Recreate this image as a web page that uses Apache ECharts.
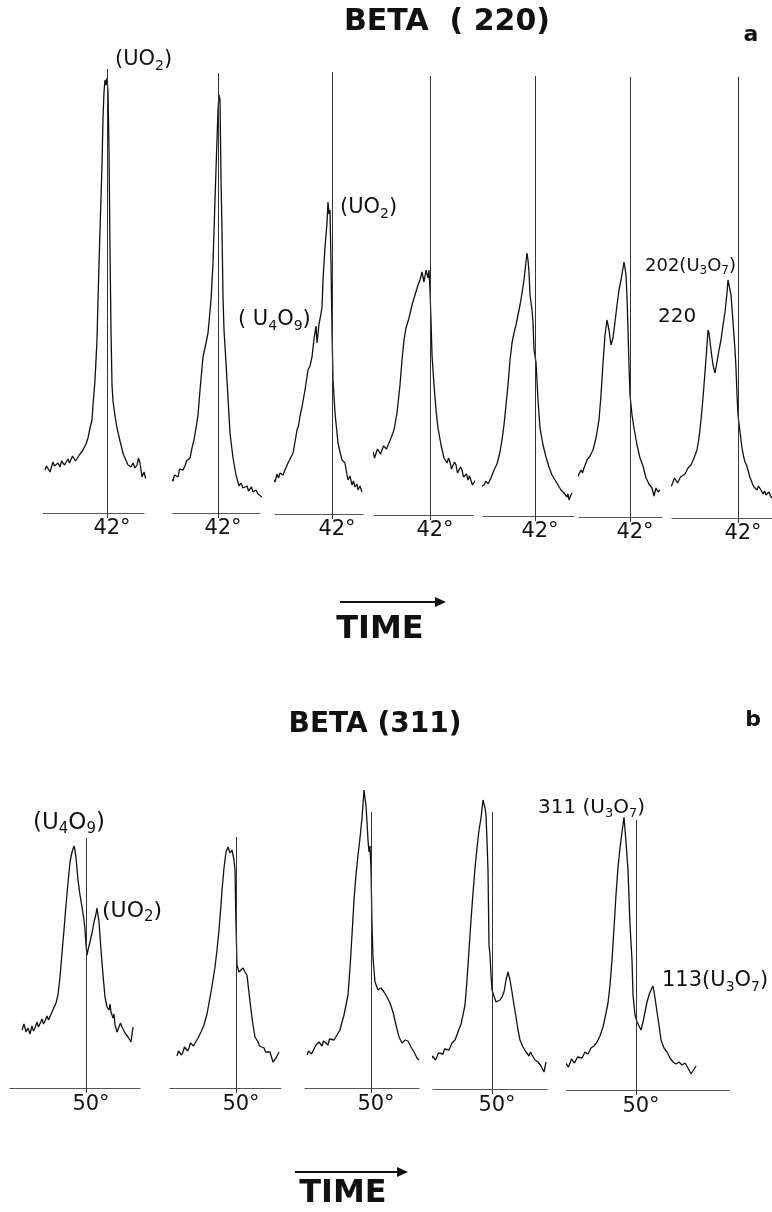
<!DOCTYPE html>
<html>
<head>
<meta charset="utf-8">
<script src="https://cdn.jsdelivr.net/npm/echarts@6/dist/echarts.min.js"></script>
<style>
html, body { margin: 0; background: #fff; }
#chart { width: 772px; height: 1212px; }
</style>
</head>
<body>
<div id="chart"></div>
<script>
// BETA (220): seven scans around 42 deg, [2theta, counts]
var a1 = [[40.76,43],[40.79,47],[40.82,48],[40.86,41],[40.89,46],[40.92,51],[40.95,47],[40.98,45],[41.02,50],[41.06,46],[41.09,52],[41.12,53],[41.15,48],[41.18,49],[41.22,54],[41.25,50],[41.28,51],[41.31,57],[41.34,56],[41.37,52],[41.40,54],[41.46,59],[41.52,63],[41.58,69],[41.62,75],[41.66,85],[41.70,93],[41.72,108],[41.76,133],[41.80,173],[41.82,213],[41.86,283],[41.90,348],[41.92,395],[41.94,421],[41.96,433],[41.98,428],[42.00,435],[42.02,421],[42.04,363],[42.06,263],[42.08,183],[42.10,128],[42.12,112],[42.16,97],[42.20,85],[42.26,72],[42.30,64],[42.33,58],[42.36,55],[42.42,48],[42.45,50],[42.48,46],[42.52,50],[42.56,45],[42.60,48],[42.63,55],[42.66,50],[42.70,36],[42.74,41],[42.77,35],[42.80,33],[42.83,37],[42.86,31]];
var a2 = [[40.80,26],[40.84,30],[40.87,35],[40.90,33],[40.94,27],[40.97,32],[41.00,30],[41.03,36],[41.06,34],[41.10,32],[41.13,38],[41.16,37],[41.20,36],[41.23,44],[41.26,45],[41.30,43],[41.34,47],[41.37,52],[41.40,50],[41.44,55],[41.48,65],[41.52,73],[41.56,85],[41.60,98],[41.64,123],[41.70,156],[41.76,170],[41.80,180],[41.86,213],[41.90,250],[41.94,313],[41.98,373],[42.00,403],[42.02,418],[42.04,413],[42.06,333],[42.08,283],[42.10,216],[42.12,183],[42.16,150],[42.20,115],[42.24,80],[42.30,55],[42.36,38],[42.42,27],[42.46,30],[42.50,25],[42.54,23],[42.58,27],[42.61,22],[42.64,23],[42.67,26],[42.70,21],[42.76,23],[42.80,19],[42.84,21],[42.88,16]];
var a3 = [[40.66,31],[40.70,38],[40.74,33],[40.78,40],[40.82,35],[40.86,32],[40.90,40],[40.93,36],[40.96,41],[41.02,39],[41.06,44],[41.09,42],[41.12,51],[41.16,55],[41.19,53],[41.22,61],[41.26,72],[41.30,84],[41.33,88],[41.36,98],[41.40,107],[41.46,124],[41.52,144],[41.56,148],[41.60,157],[41.64,175],[41.68,188],[41.70,171],[41.74,190],[41.78,200],[41.80,207],[41.82,234],[41.86,267],[41.90,291],[41.92,312],[41.94,300],[41.96,304],[41.98,251],[42.00,184],[42.02,134],[42.06,101],[42.12,71],[42.16,62],[42.20,54],[42.26,51],[42.29,42],[42.32,34],[42.36,38],[42.40,29],[42.43,33],[42.46,27],[42.50,30],[42.52,24],[42.56,28],[42.60,22]];
var a4 = [[40.68,50],[40.71,56],[40.74,57],[40.77,51],[40.80,53],[40.83,60],[40.86,63],[40.89,57],[40.92,59],[40.95,66],[40.98,67],[41.01,61],[41.04,63],[41.07,69],[41.10,70],[41.13,66],[41.16,68],[41.22,77],[41.28,85],[41.34,102],[41.40,130],[41.44,155],[41.48,175],[41.52,187],[41.58,197],[41.64,210],[41.70,220],[41.76,230],[41.80,235],[41.84,243],[41.88,233],[41.92,245],[41.96,237],[41.98,245],[42.00,225],[42.02,195],[42.04,160],[42.08,130],[42.12,105],[42.16,87],[42.22,70],[42.28,57],[42.34,52],[42.37,57],[42.40,53],[42.43,46],[42.46,47],[42.49,53],[42.52,50],[42.55,42],[42.58,43],[42.61,48],[42.64,45],[42.67,38],[42.70,40],[42.73,41],[42.76,35],[42.79,39],[42.82,37],[42.85,30],[42.88,31],[42.91,35],[42.94,33],[43.00,29]];
var a5 = [[40.90,29],[40.94,27],[40.98,31],[41.02,35],[41.06,32],[41.12,38],[41.18,46],[41.24,52],[41.30,64],[41.34,76],[41.38,91],[41.42,111],[41.46,131],[41.50,156],[41.54,173],[41.58,183],[41.62,191],[41.66,201],[41.70,211],[41.74,223],[41.78,236],[41.82,254],[41.84,263],[41.86,256],[41.88,244],[41.90,221],[41.94,206],[41.96,194],[41.98,166],[42.02,154],[42.06,116],[42.10,88],[42.16,71],[42.22,59],[42.28,49],[42.34,41],[42.40,36],[42.43,38],[42.46,31],[42.52,26],[42.55,28],[42.58,23],[42.64,19],[42.66,22],[42.68,16],[42.71,20],[42.74,23]];
var a6 = [[40.84,37],[40.87,42],[40.90,43],[40.93,38],[40.96,40],[41.02,47],[41.05,44],[41.08,49],[41.14,57],[41.20,61],[41.26,67],[41.32,79],[41.38,97],[41.42,122],[41.46,154],[41.50,182],[41.54,197],[41.58,187],[41.62,172],[41.66,179],[41.70,195],[41.74,212],[41.78,227],[41.82,237],[41.86,249],[41.88,255],[41.90,249],[41.92,242],[41.94,220],[41.96,187],[41.98,152],[42.00,122],[42.04,102],[42.08,89],[42.14,72],[42.20,59],[42.26,51],[42.32,39],[42.38,33],[42.44,29],[42.48,21],[42.52,29],[42.56,25],[42.60,27]];
var a7 = [[40.58,31],[40.61,35],[40.64,36],[40.67,32],[40.70,34],[40.73,40],[40.76,39],[40.79,35],[40.82,36],[40.85,41],[40.88,42],[40.94,44],[41.00,50],[41.06,53],[41.12,60],[41.18,68],[41.22,80],[41.26,98],[41.30,120],[41.34,146],[41.38,173],[41.40,188],[41.42,185],[41.46,168],[41.50,153],[41.54,145],[41.58,156],[41.62,168],[41.66,178],[41.70,193],[41.74,206],[41.78,225],[41.80,238],[41.82,236],[41.86,223],[41.90,196],[41.94,168],[41.96,150],[41.98,123],[42.00,103],[42.04,86],[42.08,70],[42.11,62],[42.14,56],[42.17,53],[42.20,48],[42.23,42],[42.26,38],[42.29,34],[42.32,31],[42.38,28],[42.41,32],[42.44,31],[42.47,27],[42.50,24],[42.53,27],[42.56,23],[42.62,26],[42.65,22],[42.68,20]];

// BETA (311): five scans around 50 deg
var b1 = [[48.72,58],[48.76,64],[48.80,56],[48.84,60],[48.88,54],[48.92,62],[48.95,57],[48.98,60],[49.02,66],[49.05,61],[49.08,63],[49.12,69],[49.15,64],[49.18,67],[49.22,72],[49.25,68],[49.28,70],[49.32,76],[49.36,78],[49.40,85],[49.44,93],[49.48,111],[49.52,135],[49.56,158],[49.60,183],[49.64,205],[49.68,226],[49.72,236],[49.76,242],[49.78,238],[49.80,230],[49.84,208],[49.88,193],[49.92,181],[49.96,168],[49.98,158],[50.00,143],[50.02,133],[50.04,138],[50.08,146],[50.12,155],[50.16,166],[50.20,174],[50.22,180],[50.26,166],[50.30,138],[50.34,113],[50.38,91],[50.42,81],[50.46,78],[50.48,84],[50.50,76],[50.54,70],[50.56,74],[50.58,63],[50.62,56],[50.66,58],[50.69,65],[50.72,61],[50.78,55],[50.84,51],[50.90,46],[50.94,61]];
var b2 = [[48.82,32],[48.85,37],[48.88,38],[48.91,33],[48.94,36],[48.97,41],[49.00,42],[49.03,37],[49.06,40],[49.09,45],[49.12,46],[49.15,42],[49.18,44],[49.24,50],[49.30,56],[49.36,63],[49.42,74],[49.46,85],[49.50,96],[49.54,108],[49.58,121],[49.62,138],[49.66,158],[49.70,183],[49.72,198],[49.76,220],[49.80,236],[49.84,241],[49.88,235],[49.92,238],[49.96,228],[49.98,218],[50.00,163],[50.02,123],[50.06,116],[50.10,118],[50.14,120],[50.18,116],[50.22,113],[50.26,95],[50.30,78],[50.34,63],[50.38,51],[50.44,46],[50.47,42],[50.50,42],[50.56,40],[50.59,36],[50.62,38],[50.68,36],[50.74,26],[50.80,30],[50.86,36]];
var b3 = [[48.72,33],[48.75,37],[48.78,38],[48.81,34],[48.84,36],[48.87,40],[48.90,43],[48.96,46],[49.02,42],[49.05,47],[49.08,48],[49.14,43],[49.17,49],[49.20,50],[49.26,48],[49.32,53],[49.38,58],[49.42,66],[49.46,73],[49.50,83],[49.54,93],[49.58,120],[49.62,153],[49.66,188],[49.70,213],[49.74,233],[49.78,250],[49.82,270],[49.86,298],[49.90,282],[49.92,266],[49.94,248],[49.96,236],[49.98,242],[50.00,218],[50.02,163],[50.04,130],[50.08,106],[50.14,98],[50.20,100],[50.26,96],[50.32,91],[50.38,85],[50.44,76],[50.50,63],[50.56,51],[50.62,45],[50.68,48],[50.74,47],[50.80,41],[50.86,36],[50.92,30],[50.96,28]];
var b4 = [[48.78,29],[48.81,33],[48.84,34],[48.87,29],[48.90,31],[48.93,36],[48.96,38],[49.02,35],[49.05,40],[49.08,42],[49.14,39],[49.20,46],[49.26,49],[49.32,57],[49.38,65],[49.42,74],[49.46,84],[49.50,109],[49.54,139],[49.58,169],[49.62,196],[49.66,221],[49.70,241],[49.74,259],[49.78,271],[49.82,289],[49.86,281],[49.88,274],[49.90,249],[49.92,219],[49.94,144],[49.96,134],[49.98,114],[50.00,99],[50.04,99],[50.08,87],[50.12,89],[50.16,89],[50.20,92],[50.24,97],[50.28,109],[50.32,117],[50.36,109],[50.40,97],[50.44,84],[50.48,72],[50.52,59],[50.56,49],[50.62,42],[50.65,44],[50.68,37],[50.74,33],[50.77,37],[50.80,34],[50.86,29],[50.92,27],[50.98,23],[51.02,21],[51.04,17],[51.08,27]];
var b5 = [[48.56,22],[48.59,27],[48.62,28],[48.65,23],[48.68,25],[48.71,31],[48.74,32],[48.77,27],[48.80,28],[48.83,33],[48.86,34],[48.92,32],[48.98,38],[49.04,36],[49.10,42],[49.16,44],[49.22,48],[49.28,54],[49.34,63],[49.40,77],[49.44,87],[49.48,105],[49.52,130],[49.56,162],[49.60,195],[49.64,223],[49.68,242],[49.72,258],[49.76,273],[49.78,260],[49.80,248],[49.84,220],[49.88,165],[49.92,130],[49.94,95],[49.98,75],[50.02,68],[50.06,70],[50.10,60],[50.14,68],[50.18,78],[50.22,88],[50.26,95],[50.30,100],[50.34,104],[50.38,92],[50.42,78],[50.46,65],[50.50,50],[50.56,42],[50.62,38],[50.68,32],[50.74,28],[50.80,26],[50.86,28],[50.92,25],[50.98,27],[51.04,22],[51.10,16],[51.14,18],[51.20,24]];

var tickA = 42, tickB = 50;
var scansA = [a1, a2, a3, a4, a5, a6, a7];
var scansB = [b1, b2, b3, b4, b5];
// height (counts) of the reference line drawn at the peak position
var refA = [444, 440, 442, 439, 440, 440, 441];
var refB = [250, 251, 276, 277, 270];

// layout, px
var degPx = 50;
var lineXA = [107, 218, 332, 430, 535, 630, 738];
var spanA = [[43,144],[173,260],[275,363],[374,473],[483,574],[579,662],[672,772]];
var baseA = [513, 513, 514, 515, 516, 517, 518];
var lineXB = [86, 236, 371, 492, 636];
var spanB = [[10,140],[170,281],[305,419],[433,547],[567,729]];
var baseB = [1088, 1088, 1088, 1089, 1090];

var FONT = 'DejaVu Sans';
var grids = [], xAxes = [], yAxes = [], series = [];

function addScan(data, tick, lx, span, base, yMax, ref, labelMargin) {
    var i = grids.length;
    grids.push({ left: span[0], width: span[1] - span[0], top: base - yMax, height: yMax });
    xAxes.push({
        gridIndex: i, type: 'value',
        min: tick - (lx - span[0]) / degPx,
        max: tick + (span[1] - lx) / degPx,
        splitLine: { show: false },
        axisLine: { show: true, onZero: false, lineStyle: { color: '#555', width: 1.2 } },
        axisTick: { show: true, customValues: [tick], length: 5, lineStyle: { color: '#333', width: 1 } },
        axisLabel: {
            show: true, customValues: [tick], formatter: '{value}°', margin: labelMargin,
            fontFamily: FONT, fontSize: 21, color: '#111', padding: [0, 0, 0, 10]
        }
    });
    yAxes.push({ gridIndex: i, type: 'value', min: 0, max: yMax, show: false });
    series.push({
        type: 'line', xAxisIndex: i, yAxisIndex: i, data: data,
        showSymbol: false, clip: false, silent: true,
        lineStyle: { color: '#111', width: 1.3 },
        markLine: {
            silent: true, symbol: 'none', label: { show: false },
            lineStyle: { color: '#333', width: 1, type: 'solid' },
            data: [[{ coord: [tick, 0] }, { coord: [tick, ref] }]]
        }
    });
}

scansA.forEach(function (d, k) {
    addScan(d, tickA, lineXA[k], spanA[k], baseA[k], 450, refA[k], 5);
});
scansB.forEach(function (d, k) {
    addScan(d, tickB, lineXB[k], spanB[k], baseB[k], 300, refB[k], 6);
});

function sub(size, drop) {
    return { fontSize: size, fontFamily: FONT, fill: '#111', padding: [drop, 0, 0, 0] };
}
function txt(x, y, text, size, opts) {
    opts = opts || {};
    return {
        type: 'text', x: x, y: y, silent: true,
        style: {
            text: text, fill: '#111', fontFamily: FONT, fontSize: size,
            fontWeight: opts.bold ? 'bold' : 'normal',
            align: opts.align || 'left', verticalAlign: 'middle',
            rich: { s: sub(Math.round(size * 0.66), Math.round(size * 0.55)) }
        }
    };
}
function arrow(x1, x2, y) {
    return [
        { type: 'line', silent: true, shape: { x1: x1, y1: y, x2: x2 - 8, y2: y }, style: { stroke: '#111', lineWidth: 2.2 } },
        { type: 'polygon', silent: true, shape: { points: [[x2 - 11, y - 5], [x2, y], [x2 - 11, y + 5]] }, style: { fill: '#111' } }
    ];
}

var graphics = [
    txt(447, 22, 'BETA  ( 220)', 30, { bold: true, align: 'center' }),
    txt(751, 35, 'a', 22, { bold: true, align: 'center' }),
    txt(115, 60, '(UO{s|2})', 21),
    txt(340, 208, '(UO{s|2})', 21),
    txt(238, 320, '( U{s|4}O{s|9})', 21),
    txt(645, 266, '202(U{s|3}O{s|7})', 18),
    txt(658, 317, '220', 20),
    txt(380, 630, 'TIME', 32, { bold: true, align: 'center' }),
    txt(375, 725, 'BETA (311)', 28, { bold: true, align: 'center' }),
    txt(753, 720, 'b', 22, { bold: true, align: 'center' }),
    txt(33, 823, '(U{s|4}O{s|9})', 23),
    txt(102, 911, '(UO{s|2})', 22),
    txt(538, 808, '311 (U{s|3}O{s|7})', 20),
    txt(662, 981, '113(U{s|3}O{s|7})', 21),
    txt(343, 1194, 'TIME', 32, { bold: true, align: 'center' })
].concat(arrow(340, 446, 602), arrow(295, 408, 1172));

var chart = echarts.init(document.getElementById('chart'));
chart.setOption({
    backgroundColor: '#fff',
    animation: false,
    grid: grids,
    xAxis: xAxes,
    yAxis: yAxes,
    series: series,
    graphic: graphics
});
</script>
</body>
</html>
